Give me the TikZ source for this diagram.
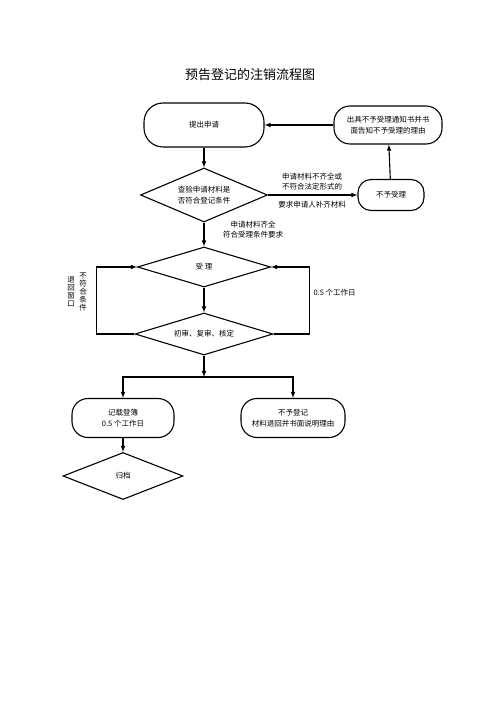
\documentclass[tikz,border=0pt]{standalone}
\usepackage{fontspec}
\setmainfont{Noto Sans CJK SC}
\usetikzlibrary{shapes}

\begin{document}
\begin{tikzpicture}[x=1pt,y=-1pt,>=latex,line width=1.1pt,
        roundbox/.style={draw,rounded corners=16pt,align=center,inner sep=2pt,font=\fontsize{7.5}{11}\selectfont},
        decision/.style={draw,diamond,aspect=2.5,inner sep=0pt,align=center,font=\fontsize{7.5}{11}\selectfont},
        remark/.style={align=center,inner sep=0pt,font=\fontsize{7.5}{10}\selectfont}]
            \useasboundingbox (0,0) rectangle (500,708);
            \node (title) at (250,75) {\fontsize{13}{13}\selectfont 预告登记的注销流程图};
            \node[roundbox,rounded corners=19pt,minimum width=120pt,minimum height=44pt] (apply) at (204,125) {提出申请};
            \node[roundbox,minimum width=108pt,minimum height=38pt] (notice) at (388,125) {出具不予受理通知书并书\\面告知不予受理的理由};
            \node[decision,minimum width=127pt,minimum height=54pt] (check) at (204,195) {查验申请材料是\\否符合登记条件};
            \node[roundbox,rounded corners=13pt,minimum width=66pt,minimum height=31pt] (reject) at (391,195) {不予受理};
            \node[decision,minimum width=133pt,minimum height=40pt] (accept) at (204,267) {受\ 理};
            \node[decision,minimum width=138pt,minimum height=42pt] (review) at (204,334) {初审、复审、核定};
            \coordinate (split) at (204,377);
            \node[roundbox,minimum width=102pt,minimum height=39pt] (record) at (123,418) {记载登簿\\0.5 个工作日};
            \node[roundbox,minimum width=104pt,minimum height=39pt] (refuse) at (293,418) {不予登记\\材料退回并书面说明理由};
            \node[decision,minimum width=120pt,minimum height=47pt] (archive) at (123,476) {归档};

            \draw[->] (apply) -- (check);
            \draw[->] (check) -- (reject);
            \draw[->] (reject) -- (notice);
            \draw[->] (notice) -- (apply);
            \draw[->] (check) -- (accept);
            \draw[->] (accept) -- (review);
            \draw[->] (review.west) -- ++(-38,0) |- (accept.west);
            \draw[->] (review.east) -- ++(36,0) |- (accept.east);
            \draw[->] (review) -- (split);
            \draw[->] (split) -| (record);
            \draw[->] (split) -| (refuse);
            \draw[->] (record) -- (archive);

            \node[remark] (lack) at (312,182) {申请材料不齐全或\\不符合法定形式的};
            \node[remark] (supply) at (312,205) {要求申请人补齐材料};
            \node[remark] (full) at (253,230) {申请材料齐全\\符合受理条件要求};
            \node[remark,font=\fontsize{7.5}{8}\selectfont] (unfit) at (83,292) {不\\符\\合\\条\\件};
            \node[remark,font=\fontsize{7.5}{8}\selectfont] (back) at (71,292) {退\\回\\窗\\口};
            \node[remark,anchor=west] (days) at (313,293) {0.5 个工作日};
\end{tikzpicture}
\end{document}
